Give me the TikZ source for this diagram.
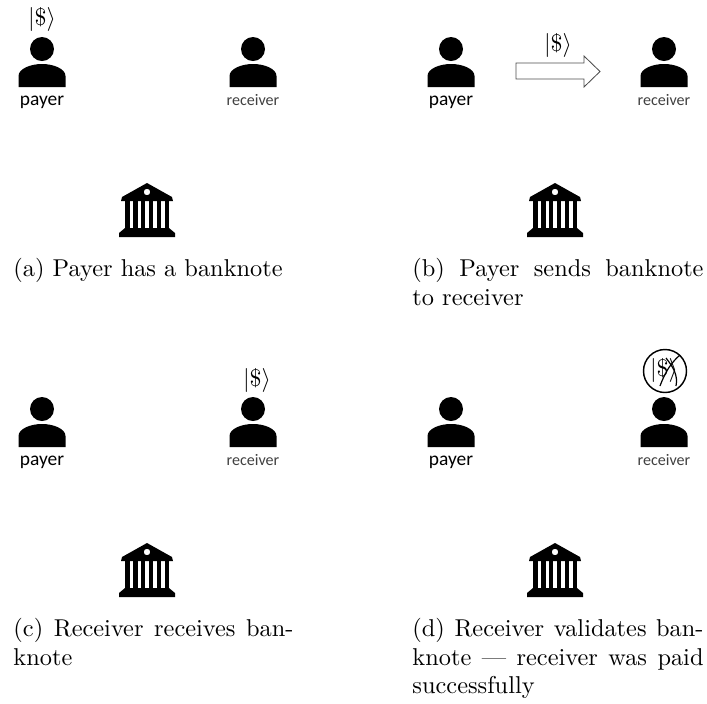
\documentclass[tikz,border=0pt]{standalone}
\usepackage{amssymb}
\usepackage{amsmath}
\usepackage{fontspec}
\usepackage{xcolor}
\usepackage{tikz}
\newfontfamily\calibrifont{Carlito}
\definecolor{greytext}{gray}{0.25}
\tikzset{
  caption/.style={anchor=north west,inner sep=0pt,align=justify,font=\fontsize{10.15}{11.8}\selectfont},
  captionleft/.style={caption,text width=116.7pt},
  captionright/.style={caption,text width=121.3pt},
  payerlabel/.style={anchor=base,inner sep=0pt,font=\calibrifont\fontsize{8.1}{10}\selectfont},
  receiverlabel/.style={anchor=base,inner sep=0pt,text=greytext,font=\calibrifont\fontsize{6.7}{9}\selectfont},
  ket/.style={inner sep=0pt},
  person/.pic={
    \fill (0,0) circle (12);
    \fill (-23.5,38) -- (-23.5,27) .. controls (-23.5,20) and (-12,15) .. (0,15)
      .. controls (12,15) and (23.5,20) .. (23.5,27) -- (23.5,38) -- cycle;
  },
  bank/.pic={
    \fill[even odd rule] (0,0) -- (25,14) -- (26,18) -- (-26,18) -- (-25,14) -- cycle
      (0,9) circle (3.3);
    \foreach \xcol in {-22,-14.1,-6.2,1.7,9.6,17.5} {
      \fill (\xcol,18) rectangle ++(4.6,28);
    }
    \fill (-22,45) -- (22,45) -- (28,50) -- (28,54) -- (-28,54) -- (-28,50) -- cycle;
  }
}
\begin{document}
\begin{tikzpicture}[x=0.4167pt,y=-0.4167pt]
\useasboundingbox (0,0) rectangle (707,703);

% panel a
\pic at (42,49) {person};
\pic at (253,49) {person};
\pic at (147,183) {bank};
\node[payerlabel] (payera) at (42,105) {payer};
\node[receiverlabel] (receivera) at (253,105) {receiver};
\node[ket] (keta) at (42,19) {$|\$\rangle$};
\node[captionleft] (capa) at (13,258) {(a) Payer has a banknote};

% panel b
\pic at (451,49) {person};
\pic at (664,49) {person};
\pic at (555,183) {bank};
\node[payerlabel] (payerb) at (451,105) {payer};
\node[receiverlabel] (receiverb) at (664,105) {receiver};
\node[ket] (ketb) at (558,45) {$|\$\rangle$};
\draw[line width=0.35pt,draw=black!70] (516,63) -- (584,63) -- (584,56) -- (600,71.5) -- (584,87) -- (584,79) -- (516,79) -- cycle;
\node[captionright] (capb) at (412,258) {(b) Payer sends banknote\linebreak to receiver};

% panel c
\pic at (42,409) {person};
\pic at (253,409) {person};
\pic at (147,543) {bank};
\node[payerlabel] (payerc) at (42,465) {payer};
\node[receiverlabel] (receiverc) at (253,465) {receiver};
\node[ket] (ketc) at (257,380) {$|\$\rangle$};
\node[captionleft] (capc) at (13,618) {(c) Receiver receives ban-\linebreak knote};

% panel d
\pic at (451,409) {person};
\pic at (664,409) {person};
\pic at (555,543) {bank};
\node[payerlabel] (payerd) at (451,465) {payer};
\node[receiverlabel] (receiverd) at (664,465) {receiver};
\node[ket] (ketd) at (664,370) {$|\$\rangle$};
\draw[line width=0.6pt] (665,371) circle (21.5);
\draw[line width=0.5pt] (680,355) .. controls (672,362) and (666,370) .. (660,386);
\draw[line width=0.5pt] (666,358) .. controls (674,368) and (678,376) .. (676,386);
\node[captionright] (capd) at (412,618) {(d) Receiver validates ban-\linebreak knote --- receiver was paid\linebreak successfully};
\end{tikzpicture}
\end{document}
